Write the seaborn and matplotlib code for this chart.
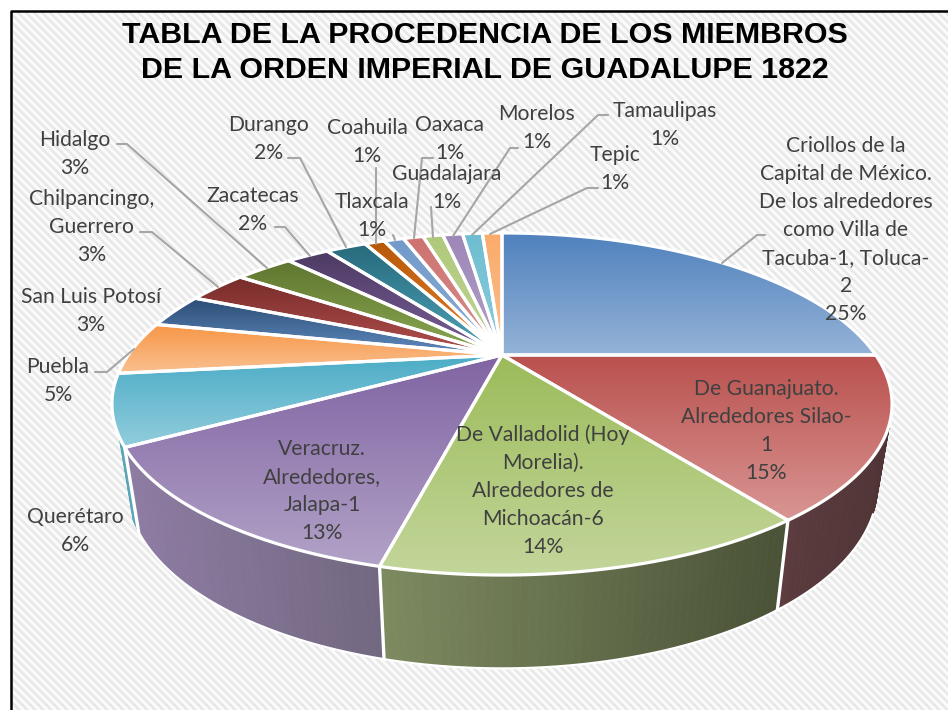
import numpy as np
import matplotlib
matplotlib.use("Agg")
import matplotlib.pyplot as plt
from matplotlib.patches import Polygon
import seaborn as sns

# slices, clockwise from the top of the pie
names = ["Criollos de la\nCapital de México.\nDe los alrededores\ncomo Villa de\nTacuba-1, Toluca-\n2",
         "De Guanajuato.\nAlrededores Silao-\n1",
         "De Valladolid (Hoy\nMorelia).\nAlrededores de\nMichoacán-6",
         "Veracruz.\nAlrededores,\nJalapa-1",
         "Querétaro", "Puebla", "San Luis Potosí",
         "Chilpancingo,\nGuerrero", "Hidalgo", "Zacatecas", "Durango",
         "Coahuila", "Tlaxcala", "Oaxaca", "Guadalajara",
         "Morelos", "Tamaulipas", "Tepic"]
sizes = [25, 15, 13.8, 12.8, 6.6, 5.1, 3.3, 3.2, 3.1, 2.3, 2.2,
         1.08, 1.08, 1.09, 1.09, 1.09, 1.09, 1.08]
shown_pct = [25, 15, 14, 13, 6, 5, 3, 3, 3, 2, 2, 1, 1, 1, 1, 1, 1, 1]

# gradient of each top face (upper colour, lower colour)
top_colors = ["#4f81bd", "#b9504d", "#9bbb59", "#8064a2", "#4bacc6", "#f79646",
              "#2c4d75", "#772c2a", "#5f7530", "#4d3b62", "#276a7c", "#b65708",
              "#729aca", "#cd7371", "#afc97a", "#9d87b8", "#6fbdd1", "#f9ab6b"]
low_colors = ["#95b3d7", "#d99694", "#c3d69b", "#b2a2c7", "#92cddc", "#fac090",
              "#5f8bbf", "#b3504f", "#8caa52", "#7a5f9a", "#4fa3ba", "#e8822c",
              "#8cadd4", "#d88f8d", "#c0d496", "#b2a2c7", "#8ccddc", "#fac090"]
# side walls: red, green, purple, teal
wall_left = ["#5c3c3e", "#7d8a60", "#8e7ca3", "#5aa5b8"]
wall_right = ["#4f3436", "#4a5237", "#726880", "#5aa5b8"]

title_lines = "TABLA DE LA PROCEDENCIA DE LOS MIEMBROS\nDE LA ORDEN IMPERIAL DE GUADALUPE 1822"

# label centres, pixels
label_xy = [(846, 230), (766, 431), (543, 491), (322, 491), (75, 531), (58, 381),
            (91, 311), (92, 227), (75, 154), (253, 210), (269, 139), (367, 142),
            (372, 216), (450, 139), (447, 188), (537, 128), (665, 125), (615, 169)]
leaders = [[(765, 235), (757, 235), (722, 263)],
           [(95, 372), (107, 372), (134, 349)],
           [(117, 144), (127, 144), (267, 268)],
           [(140, 232), (152, 232), (218, 287)],
           [(275, 227), (285, 227), (310, 256)],
           [(288, 158), (300, 158), (346, 247)],
           [(376, 168), (376, 244)],
           [(433, 158), (422, 158), (414, 238)],
           [(431, 207), (433, 237)],
           [(393, 235), (395, 240)],
           [(518, 148), (510, 148), (453, 236)],
           [(608, 115), (598, 115), (472, 235)],
           [(598, 188), (587, 188), (490, 234)]]

# pie projection, pixels
CX, CY = 502, 355
R, A, K = 373.7, 157, -0.2865


def rim(phi, lower=False):
    phi = np.radians(phi)
    u, v = np.sin(phi), -np.cos(phi)
    d = 1 + K * v
    x, y = R * u / d, A * v / d
    if lower:
        x, y = 0.963 * x, 1.067 * y + 78.6
    return CX + x, CY + y


sns.set_theme(style="white")
plt.rcParams["font.family"] = ["Lato", "DejaVu Sans"]

fig = plt.figure(figsize=(9.48, 7.1), dpi=100)
ax = fig.add_axes([0, 0, 1, 1])

# striped background
yy, xx = np.mgrid[0:698, 0:936]
stripes = ((xx - yy) % 8 < 4).astype(float)
ax.imshow(stripes, cmap=sns.blend_palette(["#e9e9e9", "#fbfbfb"], as_cmap=True),
          extent=(12, 948, 710, 12), aspect="auto", zorder=0, interpolation="bilinear")
ax.plot([11, 11, 948], [710, 11, 11], color="black", lw=1.8, zorder=1)

edges = np.cumsum([0] + sizes) / np.sum(sizes) * 360

# side walls
for i in [4, 3, 2, 1]:
    # of the teal wall only a sliver shows in the reference
    phi_end = edges[i] + 3.5 if i == 4 else edges[i + 1]
    phis = np.arange(edges[i], phi_end + 1, 1.0)
    phis[-1] = phi_end
    wall_cmap = sns.blend_palette([wall_left[i - 1], wall_right[i - 1]], as_cmap=True)
    x_all = rim(phis, True)[0]
    for a, b in zip(phis[:-1], phis[1:]):
        xa, ya = rim(a)
        xb, yb = rim(b)
        xc, yc = rim(b, True)
        xd, yd = rim(a, True)
        t = ((xc + xd) / 2 - x_all.min()) / (x_all.max() - x_all.min())
        ax.fill([xa, xb, xc, xd], [ya, yb, yc, yd], color=wall_cmap(t), lw=0.6, zorder=2)
    lx, ly = rim(phis, True)
    if i != 4:
        # only the outer part of the lower rim shows
        first = np.argmax(lx) + 8 if i == 1 else 0
        ax.plot(lx[first:], ly[first:], color="white", lw=1.6, zorder=3)
    if i != 1:
        ax.plot([rim(edges[i])[0], rim(edges[i], True)[0]],
                [rim(edges[i])[1], rim(edges[i], True)[1]],
                color="white", lw=2.4, zorder=3)

# top faces with a vertical gradient
ramp = np.linspace(0, 1, 256)[:, None]
for i in range(len(sizes)):
    phis = np.linspace(edges[i], edges[i + 1], 60)
    rx, ry = rim(phis)
    pts = np.column_stack([np.r_[CX, rx], np.r_[CY, ry]])
    cmap = sns.blend_palette([top_colors[i], low_colors[i]], as_cmap=True)
    im = ax.imshow(ramp, cmap=cmap, aspect="auto", zorder=4,
                   extent=(pts[:, 0].min(), pts[:, 0].max(), pts[:, 1].max(), pts[:, 1].min()))
    clip = Polygon(pts, closed=True, transform=ax.transData)
    im.set_clip_path(clip)
    ax.add_patch(Polygon(pts, closed=True, facecolor="none", edgecolor="white",
                         lw=2.3, joinstyle="round", zorder=5))

# the thin slices run together in white at the centre
hub = np.linspace(edges[6], 360, 30)
hx, hy = rim(hub)
ax.fill(np.r_[CX, CX + (hx - CX) * 0.045], np.r_[CY, CY + (hy - CY) * 0.12],
        color="white", zorder=5)

for line in leaders:
    ax.plot(*zip(*line), color="#a6a6a6", lw=1.5, zorder=6)

for name, pct, (x, y) in zip(names, shown_pct, label_xy):
    ax.text(x, y, f"{name}\n{pct}%", ha="center", va="center", fontsize=15.2,
            color="#404040", linespacing=1.5, zorder=7)

ax.text(485, 52.5, title_lines, ha="center", va="center", fontsize=21.9, fontweight="bold",
        family="Liberation Sans", color="black", linespacing=1.31, zorder=7)

ax.set_xlim(0, 948)
ax.set_ylim(710, 0)
ax.axis("off")
fig.savefig("out.png", dpi=100, facecolor="white")
